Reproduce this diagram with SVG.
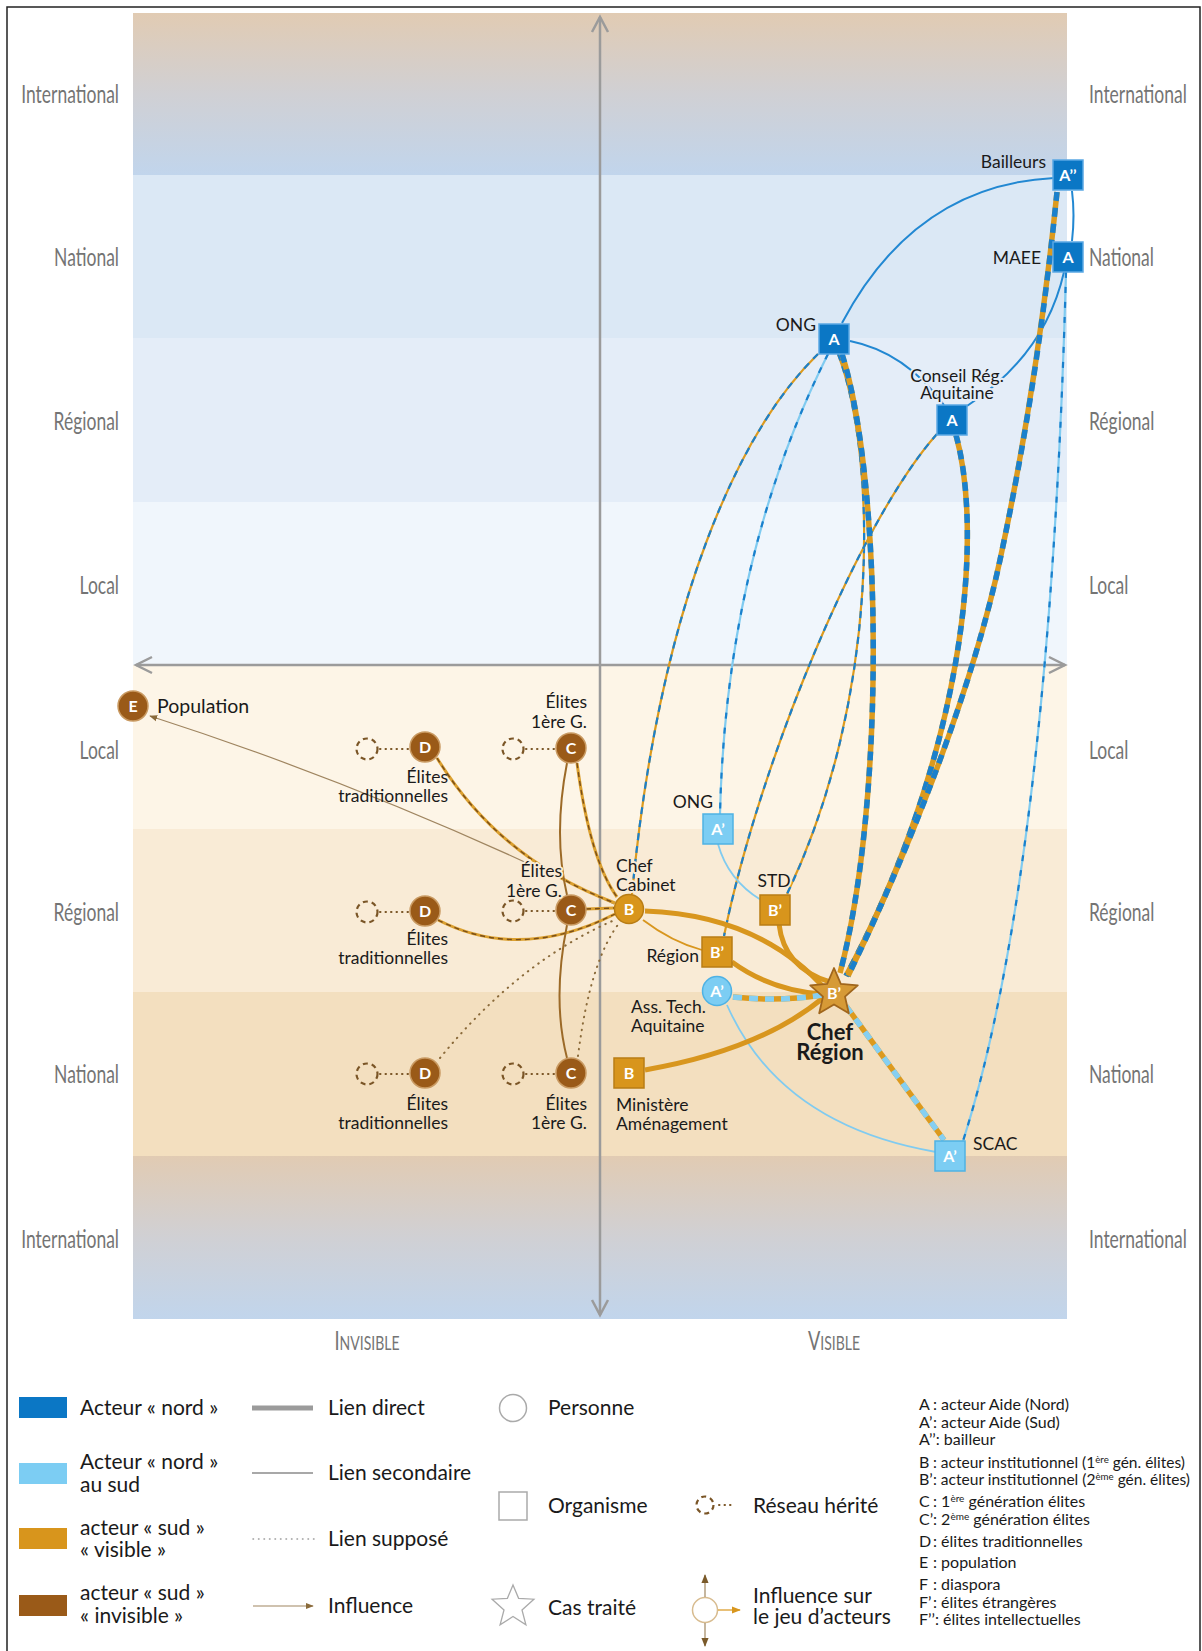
<svg xmlns="http://www.w3.org/2000/svg" xmlns:xlink="http://www.w3.org/1999/xlink" width="1202" height="1651" viewBox="0 0 1202 1651">
<defs>
<style>
text{font-family:Lato,'Liberation Sans',sans-serif;}
.ax{font-size:25px;font-weight:400;fill:#747474;}
.lb{font-size:17.5px;fill:#1a1a1a;}
.pop{font-size:19.5px;fill:#1a1a1a;}
.bd{font-size:22px;font-weight:700;fill:#1a1a1a;text-anchor:middle;}
.halo{paint-order:stroke;stroke-width:4px;stroke-linejoin:round;}
.nt{font-size:16px;font-weight:700;fill:#fff;text-anchor:middle;}
.lg{font-size:21px;fill:#1a1a1a;}
.ky{font-size:16px;fill:#1a1a1a;}
.sb{fill:#0b77c5;stroke:#5ba8e3;stroke-width:1.5;}
.sl{fill:#7ccdf3;stroke:#4fb2e4;stroke-width:1.5;}
.so{fill:#d8951c;stroke:#b97d15;stroke-width:1.5;}
.cb{fill:#9a5a18;stroke:#c99a62;stroke-width:1.5;}
.dc{fill:none;stroke:#7a5526;stroke-width:2.2;stroke-dasharray:5 4;}
.dt{fill:none;stroke:#7a5526;stroke-width:2;stroke-dasharray:0.5 5;stroke-linecap:round;}
.c{fill:none;}
.bl{stroke:#2288d2;stroke-width:2;}
.thO{stroke:#dc9a1e;stroke-width:5.5;}
.thB{stroke:#1a80cc;stroke-width:5.5;stroke-dasharray:9 7;}
.thL{stroke:#85cff2;stroke-width:5.5;stroke-dasharray:9 7;}
.tkO{stroke:#d8961e;stroke-width:5;}
.tnO{stroke:#dc9a1e;stroke-width:2.2;}
.tnB{stroke:#1a80cc;stroke-width:2.2;stroke-dasharray:7 6;}
.tnL{stroke:#80cbf0;stroke-width:2.2;}
.tnD{stroke:#1a80cc;stroke-width:2.2;stroke-dasharray:6 9;}
.lb2{stroke:#80cbf0;stroke-width:1.8;}
.oth{stroke:#d8961e;stroke-width:1.8;}
.br{stroke:#9c6a28;stroke-width:2;}
.obO{stroke:#dba030;stroke-width:3;}
.obB{stroke:#7a4e18;stroke-width:1.4;stroke-dasharray:5 4;}
.dot{stroke:#8a6a3a;stroke-width:2;stroke-dasharray:0.5 6;stroke-linecap:round;}
.inf{stroke:#9f8560;stroke-width:1.2;}
.axis{fill:none;stroke:#9b9b9b;stroke-width:2.5;}
</style>
<linearGradient id="gInt" x1="0" y1="0" x2="0" y2="1">
<stop offset="0" stop-color="#e1cbb3"/>
<stop offset="0.5" stop-color="#d0d0d4"/>
<stop offset="1" stop-color="#c1d5ec"/>
</linearGradient>
<marker id="mInf" viewBox="0 0 10 10" refX="9" refY="5" markerWidth="8" markerHeight="8" markerUnits="userSpaceOnUse" orient="auto">
<path d="M0,1 L10,5 L0,9 z" fill="#8a6a3a"/>
</marker>
<marker id="mBr" viewBox="0 0 10 10" refX="9" refY="5" markerWidth="9" markerHeight="9" markerUnits="userSpaceOnUse" orient="auto">
<path d="M0,1 L10,5 L0,9 z" fill="#7a5a2a"/>
</marker>
<marker id="mOr" viewBox="0 0 10 10" refX="9" refY="5" markerWidth="9" markerHeight="9" markerUnits="userSpaceOnUse" orient="auto">
<path d="M0,1 L10,5 L0,9 z" fill="#d8961e"/>
</marker>
<path id="pA2star" d="M1057,192 C1046,300 1030,420 1000,560 S900,870 848,976"/>
<path id="pConsStar" d="M956,435 C985,540 962,760 846,976"/>
<path id="pOngStar" d="M842,354 C882,480 886,800 840,973"/>
<path id="pOngStd" d="M838,354 C878,460 880,700 787,894"/>
<path id="pConsReg" d="M937,434 C860,520 760,760 724,936"/>
<path id="pOngOngp" d="M828,354 C780,450 725,600 720,814"/>
<path id="pOngCab" d="M818,354 C740,430 660,600 632,894"/>
<path id="pMaeeScac" d="M1066,272 C1060,500 1040,900 963,1141"/>
<path id="pAtStar" d="M733,997 Q780,1002 822,995"/>
<path id="pStarScac" d="M846,1006 L944,1140"/>
<path id="pDtB" d="M437,758 Q500,860 615,903"/>
<path id="pCtB" d="M577,763 Q590,860 617,897"/>
<path id="pCmB" d="M586,909 L614,908"/>
<path id="pDmB" d="M438,920 Q520,962 615,914"/>
</defs>

<rect x="7" y="7" width="1193" height="1650" fill="#ffffff" stroke="#222" stroke-width="1.5"/>

<g id="bands">
<rect x="133" y="13" width="934" height="162" fill="url(#gInt)"/>
<rect x="133" y="175" width="934" height="163" fill="#dbe8f5"/>
<rect x="133" y="338" width="934" height="164" fill="#e4edf8"/>
<rect x="133" y="502" width="934" height="163" fill="#f0f6fc"/>
<rect x="133" y="665" width="934" height="164" fill="#fdf5e7"/>
<rect x="133" y="829" width="934" height="163" fill="#f9ebd6"/>
<rect x="133" y="992" width="934" height="164" fill="#f3dfbf"/>
<rect x="133" y="1156" width="934" height="163" fill="url(#gInt)"/>
</g>

<g id="scale-labels" class="ax" transform="matrix(0.7,0,0,1,0,0)">
<text x="170" y="103" text-anchor="end">International</text>
<text x="170" y="266" text-anchor="end">National</text>
<text x="170" y="430" text-anchor="end">Régional</text>
<text x="170" y="594" text-anchor="end">Local</text>
<text x="170" y="759" text-anchor="end">Local</text>
<text x="170" y="921" text-anchor="end">Régional</text>
<text x="170" y="1083" text-anchor="end">National</text>
<text x="170" y="1248" text-anchor="end">International</text>
<text x="1555.7" y="103">International</text>
<text x="1555.7" y="266">National</text>
<text x="1555.7" y="430">Régional</text>
<text x="1555.7" y="594">Local</text>
<text x="1555.7" y="759">Local</text>
<text x="1555.7" y="921">Régional</text>
<text x="1555.7" y="1083">National</text>
<text x="1555.7" y="1248">International</text>
<text x="524.3" y="1350" text-anchor="middle" font-size="26">I<tspan font-size="20">NVISIBLE</tspan></text>
<text x="1191.4" y="1350" text-anchor="middle" font-size="26">V<tspan font-size="20">ISIBLE</tspan></text>
</g>

<g id="axes">
<path class="axis" d="M600,17 L600,1315 M136,665 L1065,665"/>
<path class="axis" d="M592,32 L600,17 L608,32 M592,1300 L600,1315 L608,1300 M152,657 L136,665 L152,673 M1049,657 L1065,665 L1049,673"/>
</g>

<g id="connectors" fill="none">
<path class="bl" d="M1054,178 Q915,185 842,323"/>
<path class="bl" d="M1072,191 Q1075,215 1072,241"/>
<path class="bl" d="M850,341 Q905,352 944,405"/>
<path class="bl" d="M1064,272 Q1045,355 967,406"/>
<use href="#pOngCab" class="c tnO"/><use href="#pOngCab" class="c tnB"/>
<use href="#pOngStd" class="c tnO"/><use href="#pOngStd" class="c tnB"/>
<use href="#pConsReg" class="c tnO"/><use href="#pConsReg" class="c tnB"/>
<use href="#pOngOngp" class="c tnL"/><use href="#pOngOngp" class="c tnD"/>
<use href="#pMaeeScac" class="c tnL"/><use href="#pMaeeScac" class="c tnD"/>
<use href="#pOngStar" class="c thO"/><use href="#pOngStar" class="c thB"/>
<use href="#pConsStar" class="c thO"/><use href="#pConsStar" class="c thB"/>
<use href="#pA2star" class="c thO"/><use href="#pA2star" class="c thB"/>
<path class="lb2" d="M718,844 Q728,880 761,900"/>
<path class="lb2" d="M727,1005 Q780,1125 936,1152"/>
<path class="tkO" d="M645,911 Q760,915 826,990"/>
<path class="tkO" d="M732,962 Q770,990 822,994"/>
<path class="tkO" d="M779,924 Q784,968 830,982"/>
<path class="tkO" d="M645,1070 Q760,1050 823,998"/>
<path class="oth" d="M643,920 Q672,942 702,950"/>
<use href="#pAtStar" class="c thO"/><use href="#pAtStar" class="c thL"/>
<use href="#pStarScac" class="c thO"/><use href="#pStarScac" class="c thL"/>
<path class="inf" d="M614,904 Q380,790 150,716" marker-end="url(#mInf)"/>
<use href="#pDtB" class="c obO"/><use href="#pDtB" class="c obB"/>
<use href="#pCtB" class="c obO"/><use href="#pCtB" class="c obB"/>
<use href="#pCmB" class="c obO"/><use href="#pCmB" class="c obB"/>
<use href="#pDmB" class="c obO"/><use href="#pDmB" class="c obB"/>
<path class="br" d="M567,763 Q553,835 567,895"/>
<path class="br" d="M567,925 Q552,1000 567,1058"/>
<path class="dot" d="M440,1058 Q520,960 617,919"/>
<path class="dot" d="M578,1056 Q590,960 620,922"/>
<path class="dt" d="M380,749 L408,749 M526,749 L554,749 M380,912 L408,912 M526,911 L554,911 M380,1074 L408,1074 M526,1074 L554,1074"/>
</g>

<g id="n-bailleurs"><rect class="sb" x="1053" y="160" width="30" height="30"/><text class="nt" x="1068" y="181">A’’</text><text class="lb" x="1046" y="168" text-anchor="end">Bailleurs</text></g>
<g id="n-maee"><rect class="sb" x="1053" y="242" width="30" height="30"/><text class="nt" x="1068" y="263">A</text><text class="lb" x="1041" y="264" text-anchor="end">MAEE</text></g>
<g id="n-ong-a"><rect class="sb" x="819" y="324" width="30" height="30"/><text class="nt" x="834" y="345">A</text><text class="lb" x="816" y="331" text-anchor="end">ONG</text></g>
<g id="n-conseil"><rect class="sb" x="937" y="405" width="30" height="30"/><text class="nt" x="952" y="426">A</text><text class="lb halo" stroke="#e4edf8" x="957" y="382" text-anchor="middle">Conseil Rég.</text><text class="lb halo" stroke="#e4edf8" x="957" y="399" text-anchor="middle">Aquitaine</text></g>
<g id="n-ong-ap"><rect class="sl" x="703" y="814" width="30" height="30"/><text class="nt" x="718" y="835">A’</text><text class="lb" x="713" y="808" text-anchor="end">ONG</text></g>
<g id="n-std"><rect class="so" x="760" y="895" width="30" height="30"/><text class="nt" x="775" y="916">B’</text><text class="lb halo" stroke="#f9ebd6" x="774" y="887" text-anchor="middle">STD</text></g>
<g id="n-region"><rect class="so" x="702" y="937" width="30" height="30"/><text class="nt" x="717" y="958">B’</text><text class="lb" x="699" y="962" text-anchor="end">Région</text></g>
<g id="n-chef-cabinet"><circle class="so" cx="629" cy="909" r="14.5"/><text class="nt" x="629" y="915">B</text><text class="lb halo" stroke="#f9ebd6" x="616" y="872">Chef</text><text class="lb halo" stroke="#f9ebd6" x="616" y="891">Cabinet</text></g>
<g id="n-ass-tech"><circle class="sl" cx="717" cy="991" r="14.5"/><text class="nt" x="717" y="997">A’</text><text class="lb" x="631" y="1013">Ass. Tech.</text><text class="lb" x="631" y="1032">Aquitaine</text></g>
<g id="n-ministere"><rect class="so" x="614" y="1058" width="30" height="30"/><text class="nt" x="629" y="1079">B</text><text class="lb" x="616" y="1111">Ministère</text><text class="lb" x="616" y="1130">Aménagement</text></g>
<g id="n-scac"><rect class="sl" x="935" y="1141" width="30" height="30"/><text class="nt" x="950" y="1162">A’</text><text class="lb" x="973" y="1150">SCAC</text></g>
<g id="n-chef-region"><polygon points="834,968 840.8,983.8 857.8,985.3 845,996.6 848.8,1013.3 834,1004.5 819.2,1013.3 823,996.6 810.2,985.3 827.2,983.8" fill="#d69a36" stroke="#a0661c" stroke-width="1.8" stroke-linejoin="round"/><text class="nt" x="834" y="999">B’</text><text class="bd" x="830" y="1040">Chef</text><text class="bd" x="830" y="1060">Région</text></g>

<g id="n-population"><circle class="cb" cx="133" cy="706" r="15"/><text class="nt" x="133" y="712">E</text><text class="pop" x="157" y="713">Population</text></g>
<g id="n-d-local"><circle class="dc" cx="367" cy="749" r="10.5"/><circle class="cb" cx="425" cy="747" r="15"/><text class="nt" x="425" y="753">D</text><text class="lb" x="448" y="783" text-anchor="end">Élites</text><text class="lb" x="448" y="802" text-anchor="end">traditionnelles</text></g>
<g id="n-c-local"><circle class="dc" cx="513" cy="749" r="10.5"/><circle class="cb" cx="571" cy="748" r="15"/><text class="nt" x="571" y="754">C</text><text class="lb" x="587" y="708" text-anchor="end">Élites</text><text class="lb" x="587" y="728" text-anchor="end">1ère G.</text></g>
<g id="n-d-regional"><circle class="dc" cx="367" cy="912" r="10.5"/><circle class="cb" cx="425" cy="911" r="15"/><text class="nt" x="425" y="917">D</text><text class="lb" x="448" y="945" text-anchor="end">Élites</text><text class="lb" x="448" y="964" text-anchor="end">traditionnelles</text></g>
<g id="n-c-regional"><circle class="dc" cx="513" cy="911" r="10.5"/><circle class="cb" cx="571" cy="910" r="15"/><text class="nt" x="571" y="916">C</text><text class="lb halo" stroke="#f9ebd6" x="562" y="877" text-anchor="end">Élites</text><text class="lb halo" stroke="#f9ebd6" x="562" y="897" text-anchor="end">1ère G.</text></g>
<g id="n-d-national"><circle class="dc" cx="367" cy="1074" r="10.5"/><circle class="cb" cx="425" cy="1073" r="15"/><text class="nt" x="425" y="1079">D</text><text class="lb" x="448" y="1110" text-anchor="end">Élites</text><text class="lb" x="448" y="1129" text-anchor="end">traditionnelles</text></g>
<g id="n-c-national"><circle class="dc" cx="513" cy="1074" r="10.5"/><circle class="cb" cx="571" cy="1073" r="15"/><text class="nt" x="571" y="1079">C</text><text class="lb" x="587" y="1110" text-anchor="end">Élites</text><text class="lb" x="587" y="1129" text-anchor="end">1ère G.</text></g>

<g id="legend">
<rect x="19" y="1397" width="48" height="21" fill="#0b77c5"/>
<rect x="19" y="1463" width="48" height="21" fill="#7ccdf3"/>
<rect x="19" y="1528" width="48" height="21" fill="#d8951c"/>
<rect x="19" y="1595" width="48" height="21" fill="#9a5a18"/>
<text class="lg" x="80" y="1415">Acteur « nord »</text>
<text class="lg" x="80" y="1469">Acteur « nord »</text>
<text class="lg" x="80" y="1492">au sud</text>
<text class="lg" x="80" y="1535">acteur « sud »</text>
<text class="lg" x="80" y="1557">« visible »</text>
<text class="lg" x="80" y="1600">acteur « sud »</text>
<text class="lg" x="80" y="1623">« invisible »</text>

<line x1="252" y1="1408" x2="313" y2="1408" stroke="#9b9b9b" stroke-width="5"/>
<line x1="252" y1="1473" x2="313" y2="1473" stroke="#a8a8a8" stroke-width="2"/>
<line x1="253" y1="1539" x2="315" y2="1539" stroke="#999" stroke-width="1.5" stroke-dasharray="0.5 5" stroke-linecap="round"/>
<line x1="253" y1="1606" x2="313" y2="1606" class="inf" marker-end="url(#mInf)"/>
<text class="lg" x="328" y="1415">Lien direct</text>
<text class="lg" x="328" y="1480">Lien secondaire</text>
<text class="lg" x="328" y="1546">Lien supposé</text>
<text class="lg" x="328" y="1613">Influence</text>

<circle cx="513" cy="1408" r="13.5" fill="#fff" stroke="#aaa" stroke-width="1.5"/>
<rect x="499" y="1492" width="28" height="28" fill="#fff" stroke="#aaa" stroke-width="1.5"/>
<polygon points="513,1585 518.6,1598.3 533.9,1599.2 522.0,1609.9 525.9,1624.8 513,1616.5 500.1,1624.8 504.0,1609.9 492.1,1599.2 507.4,1598.3" fill="#fff" stroke="#aaa" stroke-width="1.3"/>
<text class="lg" x="548" y="1415">Personne</text>
<text class="lg" x="548" y="1513">Organisme</text>
<text class="lg" x="548" y="1615">Cas traité</text>

<circle class="dc" cx="705" cy="1505" r="8.5" stroke-dasharray="4 3"/>
<line x1="719" y1="1505" x2="735" y2="1505" class="dt"/>
<text class="lg" x="753" y="1513">Réseau hérité</text>
<circle cx="705" cy="1610" r="12.5" fill="#fff" stroke="#d8bc90" stroke-width="1.5"/>
<line x1="705" y1="1597" x2="705" y2="1575" stroke="#a08660" stroke-width="1.2" marker-end="url(#mBr)"/>
<line x1="705" y1="1623" x2="705" y2="1646" stroke="#a08660" stroke-width="1.2" marker-end="url(#mBr)"/>
<line x1="718" y1="1610" x2="740" y2="1610" stroke="#d8961e" stroke-width="1.2" marker-end="url(#mOr)"/>
<text class="lg" x="753" y="1603">Influence sur</text>
<text class="lg" x="753" y="1624">le jeu d’acteurs</text>

<g class="ky">
<text x="919" y="1410">A</text><text x="933" y="1410">: acteur Aide (Nord)</text>
<text x="919" y="1428">A’</text><text x="933" y="1428">: acteur Aide (Sud)</text>
<text x="919" y="1445">A’’: bailleur</text>
<text x="919" y="1468">B</text><text x="933" y="1468" textLength="252" lengthAdjust="spacingAndGlyphs">: acteur institutionnel (1<tspan dy="-5" font-size="10">ère</tspan><tspan dy="5"> gén. élites)</tspan></text>
<text x="919" y="1485">B’</text><text x="933" y="1485" textLength="257" lengthAdjust="spacingAndGlyphs">: acteur institutionnel (2<tspan dy="-5" font-size="10">ème</tspan><tspan dy="5"> gén. élites)</tspan></text>
<text x="919" y="1507">C</text><text x="933" y="1507">: 1<tspan dy="-5" font-size="10">ère</tspan><tspan dy="5"> génération élites</tspan></text>
<text x="919" y="1525">C’</text><text x="933" y="1525">: 2<tspan dy="-5" font-size="10">ème</tspan><tspan dy="5"> génération élites</tspan></text>
<text x="919" y="1547">D</text><text x="933" y="1547">: élites traditionnelles</text>
<text x="919" y="1568">E</text><text x="933" y="1568">: population</text>
<text x="919" y="1590">F</text><text x="933" y="1590">: diaspora</text>
<text x="919" y="1608">F’</text><text x="933" y="1608">: élites étrangères</text>
<text x="919" y="1625">F’’: élites intellectuelles</text>
</g>
</g>
</svg>
